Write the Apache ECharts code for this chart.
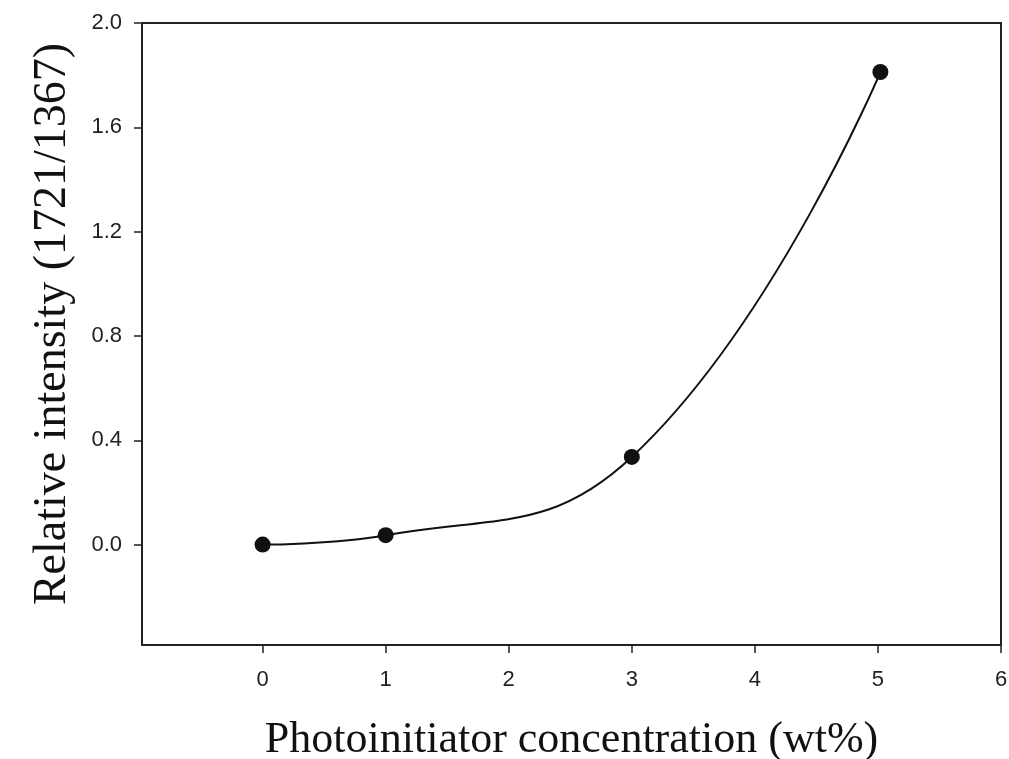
<!DOCTYPE html>
<html>
<head>
<meta charset="utf-8">
<script src="https://cdn.jsdelivr.net/npm/echarts@6/dist/echarts.min.js"></script>
<style>html,body{margin:0;padding:0;background:#fff;overflow:hidden}#c{width:1009px;height:759px}</style>
</head>
<body>
<div id="c"></div>
<script>
// Data
var concentrations = [0, 1, 3, 5.02];
var intensities = [0.0, 0.036, 0.336, 1.812];
var xTicks = [0, 1, 2, 3, 4, 5, 6];
var yTicks = [0.0, 0.4, 0.8, 1.2, 1.6, 2.0];
var xTitle = 'Photoinitiator concentration (wt%)';
var yTitle = 'Relative intensity (1721/1367)';

var points = concentrations.map(function (x, i) { return [x, intensities[i]]; });

var chart = echarts.init(document.getElementById('c'), null, {renderer: 'canvas'});
var lineStyleAxis = {show: true, onZero: false, lineStyle: {color: '#222', width: 2}};
chart.setOption({
  backgroundColor: '#fff',
  animation: false,
  grid: {left: 142, top: 23, right: 8, bottom: 114, containLabel: false, outerBoundsMode: 'none'},
  xAxis: [{
    type: 'value', min: -0.98, max: 6,
    axisLine: lineStyleAxis, splitLine: {show: false},
    axisTick: {show: true, length: 8, inside: false, customValues: xTicks, lineStyle: {color: '#222', width: 1.5}},
    axisLabel: {customValues: xTicks, margin: 24, fontFamily: 'Liberation Sans, Arial', fontSize: 22, color: '#222'},
    name: xTitle, nameLocation: 'middle', nameGap: 73,
    nameTextStyle: {fontFamily: 'Liberation Serif, Times New Roman', fontSize: 44, color: '#111'}
  }, {
    type: 'value', min: -0.98, max: 6, position: 'top',
    axisLine: lineStyleAxis, axisTick: {show: false}, axisLabel: {show: false}, splitLine: {show: false}
  }],
  yAxis: [{
    type: 'value', min: -0.385, max: 2.0,
    axisLine: lineStyleAxis, splitLine: {show: false},
    axisTick: {show: true, length: 8, inside: false, customValues: yTicks, lineStyle: {color: '#222', width: 1.5}},
    axisLabel: {customValues: yTicks, margin: 20, fontFamily: 'Liberation Sans, Arial', fontSize: 22, color: '#222',
      formatter: function (v) { return v.toFixed(1); }},
    name: yTitle, nameLocation: 'middle', nameGap: 66, nameRotate: 90,
    nameTextStyle: {fontFamily: 'Liberation Serif, Times New Roman', fontSize: 46, color: '#111', padding: [0, 0, 0, 20]}
  }, {
    type: 'value', min: -0.385, max: 2.0, position: 'right',
    axisLine: lineStyleAxis, axisTick: {show: false}, axisLabel: {show: false}, splitLine: {show: false}
  }],
  series: [{
    type: 'line',
    data: points,
    smooth: 0.45,
    symbol: 'circle',
    symbolSize: 16,
    showSymbol: true,
    lineStyle: {color: '#111', width: 2},
    itemStyle: {color: '#111'},
    z: 3
  }]
});
</script>
</body>
</html>
